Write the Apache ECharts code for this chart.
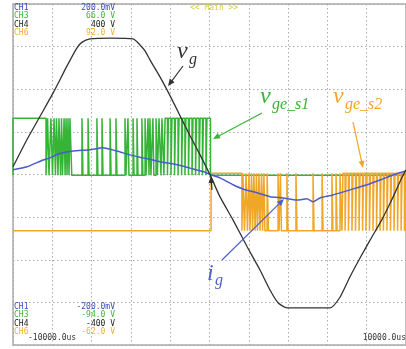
<!DOCTYPE html>
<html><head><meta charset="utf-8">
<script src="https://cdn.jsdelivr.net/npm/echarts@6/dist/echarts.min.js"></script>
<style>html,body{margin:0;padding:0;background:#fff}#c{width:406px;height:349px}</style>
</head><body><div id="c"></div>
<script>
// time in ms (2 ms / division), values in screen divisions (8 div vertical)
const vgTime = [-10,-9.30,-8.63,-7.95,-7.27,-6.76,-6.50,-6.08,-5.06,-3.89,-3.54,-3.28,-3.03,-2.52,-2.01,-1.50,-0.99,-0.48,0.03,0.53,1.20,1.91,2.57,3.08,3.49,3.94,6.13,6.64,7.15,7.66,8.17,8.76,9.27,9.78,10];
const vgValue = [0.18,0.81,1.36,1.92,2.53,2.96,3.10,3.18,3.20,3.18,3.04,2.90,2.69,2.29,1.85,1.38,0.91,0.46,-0.01,-0.52,-1.07,-1.69,-2.24,-2.71,-3.01,-3.13,-3.13,-2.88,-2.40,-1.96,-1.54,-1.07,-0.60,-0.08,0.11];
const igTime = [-10,-9.29,-8.47,-8.12,-7.71,-6.95,-6.08,-5.42,-4.71,-4.05,-3.38,-2.52,-1.65,-0.99,-0.33,0.03,0.53,1.20,1.70,2.42,3.08,3.74,4.45,4.96,5.27,5.62,6.28,7.15,8.02,8.68,9.34,10];
const igValue = [0.11,0.18,0.34,0.39,0.48,0.55,0.58,0.63,0.55,0.46,0.39,0.30,0.23,0.15,0.07,0.0,-0.08,-0.24,-0.34,-0.43,-0.52,-0.55,-0.60,-0.57,-0.64,-0.55,-0.48,-0.36,-0.24,-0.13,-0.01,0.08];
const s1Levels = [-0.02, 1.32];   // low, high
const s2Levels = [-1.32, 0.03];
const s1Pulses = [[-10,-8.32],[-8.24,-8.17],[-8.07,-7.99],[-7.91,-7.84],[-7.79,-7.71],[-7.66,-7.58],[-7.53,-7.48],[-7.40,-7.35],[-7.30,-7.25],[-7.20,-7.15],[-7.10,-7.01],
[-6.49,-6.44],[-6.18,-6.13],[-5.73,-5.68],[-5.47,-5.42],[-5.06,-5.01],[-4.76,-4.71],[-4.30,-4.25],[-4.15,-4.10],[-3.89,-3.84],[-3.69,-3.64],[-3.44,-3.39],[-3.28,-3.23],[-3.13,-3.08],[-3.03,-2.98],[-2.88,-2.83],[-2.72,-2.65],
[-2.57,-2.47],[-2.42,-2.32],[-2.26,-2.14],[-2.09,-1.96],[-1.91,-1.78],[-1.73,-1.60],[-1.55,-1.42],[-1.37,-1.25],[-1.20,-1.07],[-1.02,-0.89],[-0.84,-0.71],[-0.66,-0.53],[-0.48,-0.36],[-0.31,-0.18],[-0.13,0.05]];
const s2Pulses = [[0.08,1.65],[1.70,1.78],[1.86,1.93],[2.01,2.06],[2.14,2.19],[2.26,2.32],[2.39,2.44],[2.52,2.57],[2.65,2.70],[2.77,2.82],[2.93,3.00],
[3.49,3.54],[3.61,3.66],[3.94,3.99],[4.40,4.45],[5.27,5.32],[5.73,5.78],[6.23,6.28],[6.44,6.49],
[6.64,6.74],[6.79,6.90],[6.95,7.07],[7.12,7.25],[7.30,7.43],[7.48,7.61],[7.66,7.79],[7.84,7.96],[8.02,8.14],[8.19,8.32],[8.37,8.50],[8.55,8.68],[8.73,8.85],[8.90,9.03],[9.08,9.21],[9.26,9.39],[9.44,9.57],[9.62,9.75],[9.80,9.92],[9.95,10]];
const topLabels = [['CH1','200.0mV'],['CH3','66.0 V'],['CH4','400 V'],['CH6','92.0 V']];
const bottomLabels = [['CH1','-200.0mV'],['CH3','-94.0 V'],['CH4','-400 V'],['CH6','-62.0 V']];
const timeLabels = ['-10000.0us','10000.0us'];
const titleLabel = '<< Main >>';

const C = {ch1:'#4a5cc8', ch3:'#36b436', ch4:'#333333', ch6:'#f0a628'};
const textColors = ['#3a4cc0','#3cb83c','#222222','#f0b030'];

function zip(a,b){return a.map((x,i)=>[x,b[i]]);}
function steps(pulses, lv){
  const out=[[-10,lv[0]]];
  pulses.forEach(p=>{out.push([p[0],lv[0]],[p[0],lv[1]],[p[1],lv[1]],[p[1],lv[0]]);});
  out.push([10,lv[0]]);
  return out;
}
function arrow(x1,y1,x2,y2,color){
  const dx=x2-x1, dy=y2-y1, L=Math.hypot(dx,dy), ux=dx/L, uy=dy/L, h=7, w=3;
  return [
    {type:'line',shape:{x1:x1,y1:y1,x2:x2-ux*h*0.7,y2:y2-uy*h*0.7},style:{stroke:color,lineWidth:1.2},z:100},
    {type:'polygon',shape:{points:[[x2,y2],[x2-ux*h-uy*w,y2-uy*h+ux*w],[x2-ux*h+uy*w,y2-uy*h-ux*w]]},style:{fill:color},z:100}
  ];
}
function txt(s,x,y,font,color,align){
  return {type:'text',x:x,y:y,z:100,style:{text:s,font:font,fill:color,textAlign:align||'left',textVerticalAlign:'middle'}};
}
const mono='8px "DejaVu Sans Mono"';
const serifBig='italic 24px "Liberation Serif"';
const serifSub='italic 16px "Liberation Serif"';
const g=[];
topLabels.forEach((r,i)=>{g.push(txt(r[0],14,8+i*8.3,mono,textColors[i]));g.push(txt(r[1],115,8+i*8.3,mono,textColors[i],'right'));});
bottomLabels.forEach((r,i)=>{g.push(txt(r[0],14,307+i*8.3,mono,textColors[i]));g.push(txt(r[1],115,307+i*8.3,mono,textColors[i],'right'));});
g.push(txt(timeLabels[0],28,338,mono,'#333'));
g.push(txt(timeLabels[1],406,338,mono,'#333','right'));
g.push(txt(titleLabel,190,8,mono,'#d8d030'));
// series annotations
g.push(txt('v',177,52,serifBig,C.ch4)); g.push(txt('g',189,60,serifSub,C.ch4));
g.push(txt('v',260,97,serifBig,C.ch3)); g.push(txt('ge_s1',272,105,serifSub,C.ch3));
g.push(txt('v',333,97,serifBig,C.ch6)); g.push(txt('ge_s2',345,105,serifSub,C.ch6));
g.push(txt('i',207,274,serifBig,'#5060c8')); g.push(txt('g',215,281,serifSub,'#5060c8'));
arrow(183,66,168,86,C.ch4).forEach(e=>g.push(e));
arrow(262,113,213,139,C.ch3).forEach(e=>g.push(e));
arrow(353,122,363,168,C.ch6).forEach(e=>g.push(e));
arrow(222,260,284,199,'#5060c8').forEach(e=>g.push(e));
arrow(212,190,211,176,C.ch4).forEach(e=>g.push(e));

const chart = echarts.init(document.getElementById('c'),null,{renderer:'canvas'});
const split={show:true,lineStyle:{color:'#aaa',type:[1.5,2.5],width:1}};
chart.setOption({
  animation:false,
  grid:{left:13,right:0,top:4,bottom:4,show:true,borderColor:'#aaa',borderWidth:1.5,backgroundColor:'#fff'},
  xAxis:{type:'value',min:-10,max:10,interval:2,axisLabel:{show:false},axisTick:{show:false},axisLine:{show:false},splitLine:split},
  yAxis:{type:'value',min:-4,max:4,interval:1,axisLabel:{show:false},axisTick:{show:false},axisLine:{show:false},splitLine:split},
  series:[
    {type:'line',data:steps(s1Pulses,s1Levels),showSymbol:false,lineStyle:{color:C.ch3,width:1.5},z:2},
    {type:'line',data:steps(s2Pulses,s2Levels),showSymbol:false,lineStyle:{color:C.ch6,width:1.5},z:2},
    {type:'line',data:zip(igTime,igValue),showSymbol:false,smooth:0.2,lineStyle:{color:C.ch1,width:1.5},z:3},
    {type:'line',data:zip(vgTime,vgValue),showSymbol:false,smooth:0.2,lineStyle:{color:C.ch4,width:1.3},z:4}
  ],
  graphic:g
});
</script></body></html>
